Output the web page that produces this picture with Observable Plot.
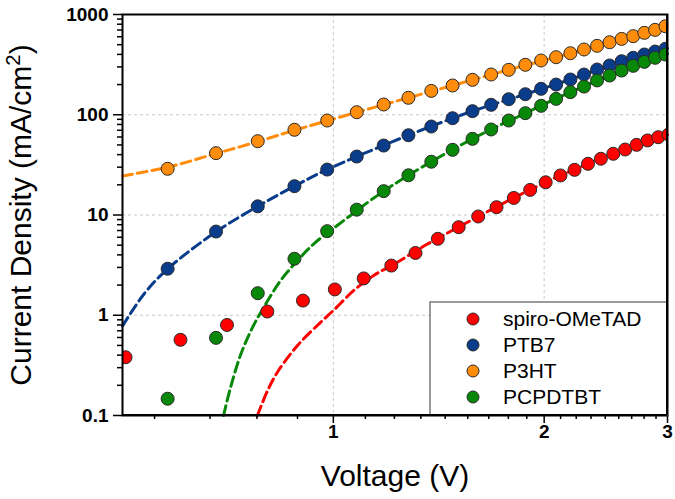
<!DOCTYPE html>
<html>
<head>
<meta charset="utf-8">
<script src="https://cdn.jsdelivr.net/npm/d3@7"></script>
<script src="https://cdn.jsdelivr.net/npm/@observablehq/plot@0.6"></script>
<style>
  html, body { margin: 0; padding: 0; background: #fff; }
  #chart svg { display: block; }
</style>
</head>
<body>
<div id="chart"></div>
<script>
// ---- data ----
const seriesNames = ["spiro-OMeTAD", "PTB7", "P3HT", "PCPDTBT"];
const seriesColors = ["#FF0000", "#0A3C8C", "#FF8C0A", "#088808"];

const voltsSpiro = [0.505, 0.605, 0.705, 0.805, 0.905, 1.005, 1.105, 1.21, 1.31, 1.41, 1.51, 1.61, 1.71,
  1.81, 1.91, 2.01, 2.11, 2.21, 2.31, 2.41, 2.51, 2.61, 2.71, 2.81, 2.91, 3.01];
const jSpiro = [0.381, 0.569, 0.80, 1.09, 1.40, 1.81, 2.33, 3.13, 4.18, 5.79, 7.56, 9.66, 11.96,
  14.8, 17.8, 21.2, 24.8, 28.2, 32.4, 36.4, 40.8, 45, 50.1, 55.4, 59.7, 63.5];

const voltsMain = [0.58, 0.68, 0.78, 0.88, 0.98, 1.08, 1.18, 1.28, 1.38, 1.48, 1.58, 1.68, 1.78,
  1.88, 1.98, 2.08, 2.18, 2.28, 2.38, 2.48, 2.58, 2.68, 2.78, 2.88, 2.98];
const jPTB7 = [2.91, 6.84, 12.2, 19.4, 28.4, 38.3, 49.3, 62.5, 76.3, 92.4, 108.6, 125.7, 142.9,
  160.3, 181.5, 200, 224.7, 252, 282.7, 310, 342, 370, 399, 427, 455];
const jP3HT = [28.9, 41.4, 54.5, 70.8, 87.6, 106, 126.5, 147.6, 173, 195.8, 223, 252, 280.7,
  315, 347.6, 375, 411, 447.6, 487, 529, 571, 608, 656, 703, 764];
const jPCPDTBT = [0.147, 0.595, 1.66, 3.66, 6.9, 11.3, 17.3, 24.9, 34, 44.7, 57.5, 71.3, 87.6,
  103.7, 122.8, 144, 168, 191, 220, 246, 276, 307.5, 337, 370, 399];

// dashed fit curves
const fitSpiroV = [0.779, 0.805, 0.832, 0.889, 0.959, 1.002, 1.07, 1.142, 1.234, 1.361, 1.51, 1.81, 2.11, 2.41, 2.71, 3.0];
const fitSpiroJ = [0.1, 0.175, 0.27, 0.50, 0.85, 1.13, 1.77, 2.49, 3.38, 5.1, 7.6, 14.8, 24.8, 36.4, 50.1, 63];
const fitPTB7V = [0.5, 0.537, 0.58, 0.68, 0.78, 0.88, 0.98, 1.28, 1.58, 1.88, 2.18, 2.48, 2.78, 3.0];
const fitPTB7J = [0.78, 1.64, 2.9, 6.8, 12.2, 19.4, 28.4, 62.5, 108.6, 160.3, 224.7, 310, 399, 460];
const fitP3HTV = [0.5, 0.58, 0.68, 0.78, 0.88, 0.98, 1.18, 1.48, 1.78, 2.08, 2.38, 2.68, 3.0];
const fitP3HTJ = [24.5, 30, 41, 54, 70, 87, 126, 196, 281, 375, 487, 608, 780];
const fitPCPDTBTV = [0.697, 0.714, 0.738, 0.767, 0.801, 0.841, 0.889, 0.938, 0.991, 1.058, 1.13, 1.28, 1.58, 1.88, 2.18, 2.48, 2.78, 3.0];
const fitPCPDTBTJ = [0.1, 0.195, 0.41, 0.76, 1.30, 2.22, 3.52, 5.16, 7.0, 9.9, 14, 24.9, 57.5, 103.7, 168, 246, 337, 405];

// axis ticks
const xMajorTicks = [1, 2, 3];
const xMinorTicks = [0.5556, 0.6667, 0.7778, 0.8889, 1.1111, 1.2222, 1.3333, 1.4444, 1.5556, 1.6667, 1.7778, 1.8889,
  2.1111, 2.2222, 2.3333, 2.4444, 2.5556, 2.6667, 2.7778, 2.8889];
const yMajorTicks = [0.1, 1, 10, 100, 1000];
const yMinorTicks = [0.2, 0.3, 0.4, 0.5, 0.6, 0.7, 0.8, 0.9, 2, 3, 4, 5, 6, 7, 8, 9,
  20, 30, 40, 50, 60, 70, 80, 90, 200, 300, 400, 500, 600, 700, 800, 900];
const yTickLabels = ["0.1", "1", "10", "100", "1000"];
const gridXTicks = [1, 2];
const gridYTicks = [1, 10, 100];

const xTitle = "Voltage (V)";
const yTitleParts = ["Current Density (mA/cm", "2", ")"];

// ---- build tables ----
const toRows = (vs, js) => vs.map((v, i) => ({V: v, J: js[i]}));
const pointSets = [
  toRows(voltsSpiro, jSpiro),
  toRows(voltsMain, jPTB7),
  toRows(voltsMain, jP3HT),
  toRows(voltsMain, jPCPDTBT)
];
const fitSets = [
  toRows(fitSpiroV, fitSpiroJ),
  toRows(fitPTB7V, fitPTB7J),
  toRows(fitP3HTV, fitP3HTJ),
  toRows(fitPCPDTBTV, fitPCPDTBTJ)
];

const FONT = "Arial, 'Liberation Sans', Helvetica, sans-serif";
const W = 675, H = 499;
const mL = 122, mR = 8, mT = 14, mB = 84;

const marks = [
  Plot.gridX(gridXTicks, {stroke: "#c8c8c8", strokeOpacity: 1, strokeDasharray: "3,3", strokeWidth: 1}),
  Plot.gridY(gridYTicks, {stroke: "#c8c8c8", strokeOpacity: 1, strokeDasharray: "3,3", strokeWidth: 1}),
  ...fitSets.map((rows, i) => Plot.line(rows, {
    x: "V", y: "J", stroke: seriesColors[i], strokeWidth: 3, strokeDasharray: "10,5", curve: "catmull-rom"
  })),
  ...pointSets.map((rows, i) => Plot.dot(rows, {
    x: "V", y: "J", r: 6.5, fill: seriesColors[i], stroke: "#2a2a2a", strokeWidth: 1, clip: true
  })),
  Plot.frame({stroke: "black", strokeWidth: 2}),
  Plot.axisX(xMinorTicks, {tickSize: 4, strokeWidth: 1.5, tickFormat: () => "", label: null}),
  Plot.axisX(xMajorTicks, {tickSize: 8, tickPadding: 1, strokeWidth: 1.5, fontSize: 19, fontWeight: "bold",
    tickFormat: d => String(d), label: null}),
  Plot.axisY(yMinorTicks, {tickSize: 5, strokeWidth: 1.5, tickFormat: () => "", label: null}),
  Plot.axisY(yMajorTicks, {tickSize: 9, tickPadding: 5, strokeWidth: 1.5, fontSize: 19, fontWeight: "bold",
    tickFormat: d => yTickLabels[yMajorTicks.indexOf(d)], label: null}),
  Plot.text([xTitle], {frameAnchor: "bottom", text: d => d, dy: 61, fontSize: 30, lineAnchor: "middle",
    textAnchor: "middle", fill: "black"}),
  Plot.text([yTitleParts.join("")], {frameAnchor: "left", text: d => d, dx: -101, rotate: -90, fontSize: 30,
    lineAnchor: "middle", textAnchor: "middle", fill: "black", className: "ytitle"})
];

const chart = Plot.plot({
  width: W,
  height: H,
  marginLeft: mL,
  marginRight: mR,
  marginTop: mT,
  marginBottom: mB,
  style: {fontFamily: FONT, background: "white", color: "black", overflow: "visible"},
  x: {type: "log", domain: [0.5, 3]},
  y: {type: "log", domain: [0.1, 1000]},
  marks
});

document.getElementById("chart").appendChild(chart);

const svg = d3.select(chart);

// superscript "2" in the y title (keeps the same text, split into tspans)
const yt = svg.select("g.ytitle text");
if (!yt.empty()) {
  yt.text(null);
  yt.append("tspan").text(yTitleParts[0]);
  yt.append("tspan").attr("font-size", "0.68em").attr("dy", "-0.55em").text(yTitleParts[1]);
  yt.append("tspan").attr("dy", "0.374em").text(yTitleParts[2]);
}

// ---- legend inside the plot frame (bottom-right) ----
const lg = svg.append("g").attr("font-family", FONT).attr("text-anchor", "start");
const boxX = 430, boxY = 302, boxW = 667 - 430, boxH = 415 - 302;
lg.append("rect").attr("x", boxX).attr("y", boxY).attr("width", boxW).attr("height", boxH)
  .attr("fill", "white").attr("stroke", "#7a7a7a").attr("stroke-width", 1.5);
seriesNames.forEach((name, i) => {
  const cy = 319 + i * 26;
  lg.append("circle").attr("cx", 473).attr("cy", cy).attr("r", 6)
    .attr("fill", seriesColors[i]).attr("stroke", "#2a2a2a").attr("stroke-width", 1);
  lg.append("text").attr("x", 503).attr("y", cy).attr("dy", "0.35em")
    .attr("text-anchor", "start").attr("font-size", 21).attr("fill", "black").text(name);
});
// redraw frame edges over legend box
svg.append("line").attr("x1", mL).attr("x2", W - mR).attr("y1", H - mB).attr("y2", H - mB)
  .attr("stroke", "black").attr("stroke-width", 2);
svg.append("line").attr("x1", W - mR).attr("x2", W - mR).attr("y1", mT).attr("y2", H - mB)
  .attr("stroke", "black").attr("stroke-width", 2);
</script>
</body>
</html>
